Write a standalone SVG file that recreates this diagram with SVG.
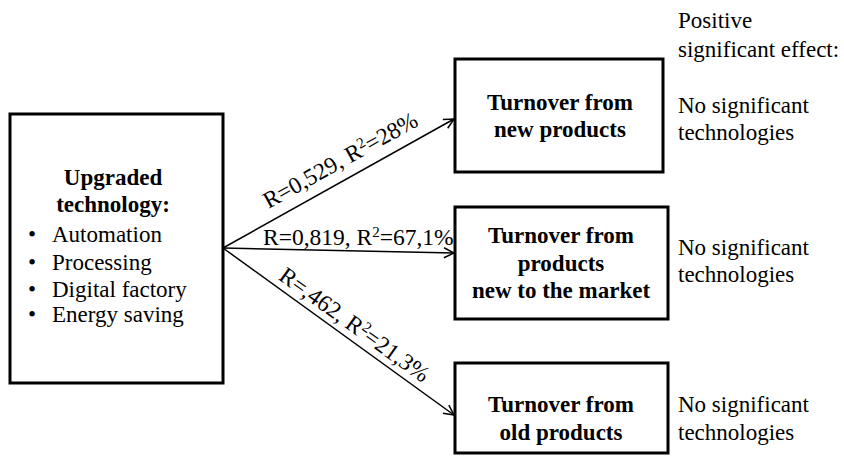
<svg xmlns="http://www.w3.org/2000/svg" width="844" height="470" viewBox="0 0 844 470" font-family="'Liberation Serif', 'Times New Roman', serif">
<defs>
<style>
.t{font-family:"Liberation Serif","Times New Roman",serif;font-size:23px;fill:#000}
.b{font-family:"Liberation Serif","Times New Roman",serif;font-size:23px;font-weight:bold;text-anchor:middle;fill:#000}
.box{fill:#fff;stroke:#000;stroke-width:3}
.c{stroke:#000;stroke-width:1.5;fill:none;marker-end:url(#ah)}
.lab{font-family:"Liberation Serif","Times New Roman",serif;font-size:23.5px;fill:#000}
</style>
<marker id="ah" viewBox="0 0 12 12" refX="11" refY="6" markerWidth="12" markerHeight="12" markerUnits="userSpaceOnUse" orient="auto">
<path d="M1,1 L11,6 L1,11" fill="none" stroke="#000" stroke-width="1.5"/>
</marker>
</defs>
<rect width="844" height="470" fill="#fff"/>
<g id="connectors">
<line class="c" x1="223" y1="248" x2="454" y2="119"/>
<line class="c" x1="223" y1="248" x2="454" y2="253"/>
<line class="c" x1="223" y1="248" x2="454" y2="415"/>
<text class="lab" transform="translate(344,167) rotate(-29.1)" text-anchor="middle">R=0,529, R<tspan dy="-8" font-size="15">2</tspan><tspan dy="8">=28%</tspan></text>
<text class="lab" x="263" y="245">R=0,819, R<tspan dy="-8" font-size="15">2</tspan><tspan dy="8">=67,1%</tspan></text>
<text class="lab" transform="translate(350,331) rotate(35.75)" text-anchor="middle">R=,462, R<tspan dy="-8" font-size="15">2</tspan><tspan dy="8">=21,3%</tspan></text>
</g>
<g id="n-upgraded">
<rect class="box" x="10" y="114" width="213" height="269"/>
<text class="b" x="113" y="185">Upgraded</text>
<text class="b" x="113" y="212">technology:</text>
<text class="t" x="28" y="242">•</text><text class="t" x="52" y="242">Automation</text>
<text class="t" x="28" y="270">•</text><text class="t" x="52" y="270">Processing</text>
<text class="t" x="28" y="297">•</text><text class="t" x="52" y="297">Digital factory</text>
<text class="t" x="28" y="322">•</text><text class="t" x="52" y="322">Energy saving</text>
</g>
<g id="n-new">
<rect class="box" x="455" y="59" width="208" height="113"/>
<text class="b" x="560" y="110">Turnover from</text>
<text class="b" x="560" y="137">new products</text>
</g>
<g id="n-market">
<rect class="box" x="455" y="207" width="213" height="112"/>
<text class="b" x="561" y="243">Turnover from</text>
<text class="b" x="561" y="271">products</text>
<text class="b" x="561" y="298">new to the market</text>
</g>
<g id="n-old">
<rect class="box" x="455" y="363" width="213" height="90"/>
<text class="b" x="561" y="412">Turnover from</text>
<text class="b" x="561" y="440">old products</text>
</g>
<g id="notes">
<text class="t" x="678" y="28">Positive</text>
<text class="t" x="678" y="57">significant effect:</text>
<text class="t" x="678" y="113">No significant</text>
<text class="t" x="678" y="140">technologies</text>
<text class="t" x="678" y="255">No significant</text>
<text class="t" x="678" y="282">technologies</text>
<text class="t" x="678" y="412">No significant</text>
<text class="t" x="678" y="440">technologies</text>
</g>
</svg>
